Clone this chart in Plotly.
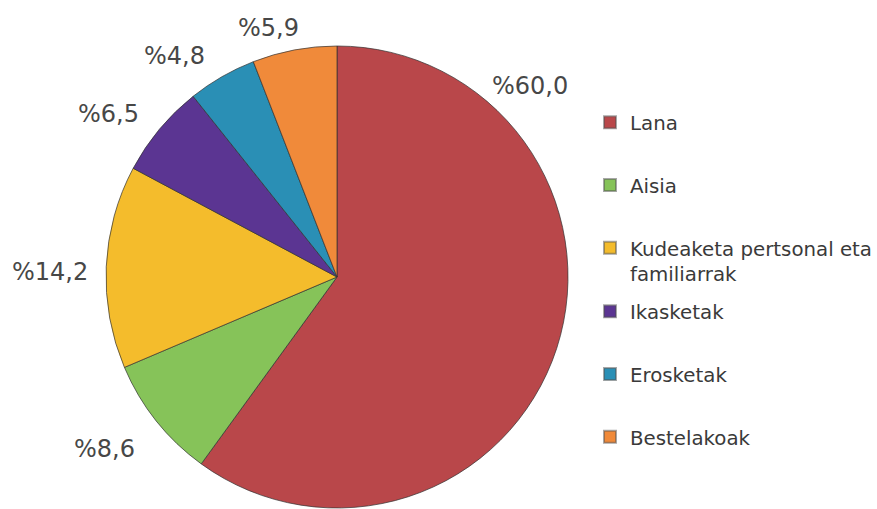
import plotly.graph_objects as go

categories = ["Lana", "Aisia", "Kudeaketa pertsonal eta<br>familiarrak", "Ikasketak", "Erosketak", "Bestelakoak"]
values = [60.0, 8.6, 14.2, 6.5, 4.8, 5.9]
colors = ["#B9474A", "#86C359", "#F4BC2C", "#5B3592", "#2A8FB5", "#F08A3A"]

# label positions in pixels (layout only)
label_pos = [(530, 86), (104, 449), (50, 272), (108, 114), (174, 56), (268, 28)]

W, H = 877, 509
cx, cy, r = 337, 277, 231

fig = go.Figure()
fig.add_trace(go.Pie(
    labels=categories, values=values, sort=False, direction="clockwise", rotation=0,
    marker=dict(colors=colors, line=dict(color="rgba(50,50,50,0.7)", width=1)),
    textinfo="none", showlegend=False, hoverinfo="label+percent",
    domain=dict(x=[(cx - r) / W, (cx + r) / W],
                y=[max(0, (H - cy - r) / H), min(1, (H - cy + r) / H)]),
))

for i, (name, col) in enumerate(zip(categories, colors)):
    fig.add_trace(go.Scatter(
        x=[None], y=[None], mode="markers", name=name,
        marker=dict(symbol="square", size=10, color=col, line=dict(color="rgba(80,80,80,0.5)", width=1)),
        legendgroup=name, showlegend=True,
        legend="legend" if i < 3 else "legend2",
    ))

for v, (px, py) in zip(values, label_pos):
    fig.add_annotation(
        x=px / W, y=1 - py / H, xref="paper", yref="paper",
        text="%" + f"{v:.1f}".replace(".", ","), showarrow=False,
        font=dict(family="DejaVu Sans", size=24, color="#474747"),
        xanchor="center", yanchor="middle",
    )

legend_style = dict(
    font=dict(family="DejaVu Sans", size=19.8, color="#3a3a3a"),
    bgcolor="rgba(0,0,0,0)", xanchor="left", yanchor="top",
    tracegroupgap=34, itemsizing="constant", valign="top",
)
fig.update_layout(
    width=W, height=H,
    margin=dict(l=0, r=0, t=0, b=0, autoexpand=False),
    paper_bgcolor="white", plot_bgcolor="white",
    xaxis=dict(visible=False), yaxis=dict(visible=False),
    legend=dict(x=590 / W, y=1 - 103 / H, **legend_style),
    legend2=dict(x=590 / W, y=1 - 292 / H, **legend_style),
)

fig.write_html("out.html", config={"displayModeBar": False},
               post_script="document.body.style.margin='0px';")
